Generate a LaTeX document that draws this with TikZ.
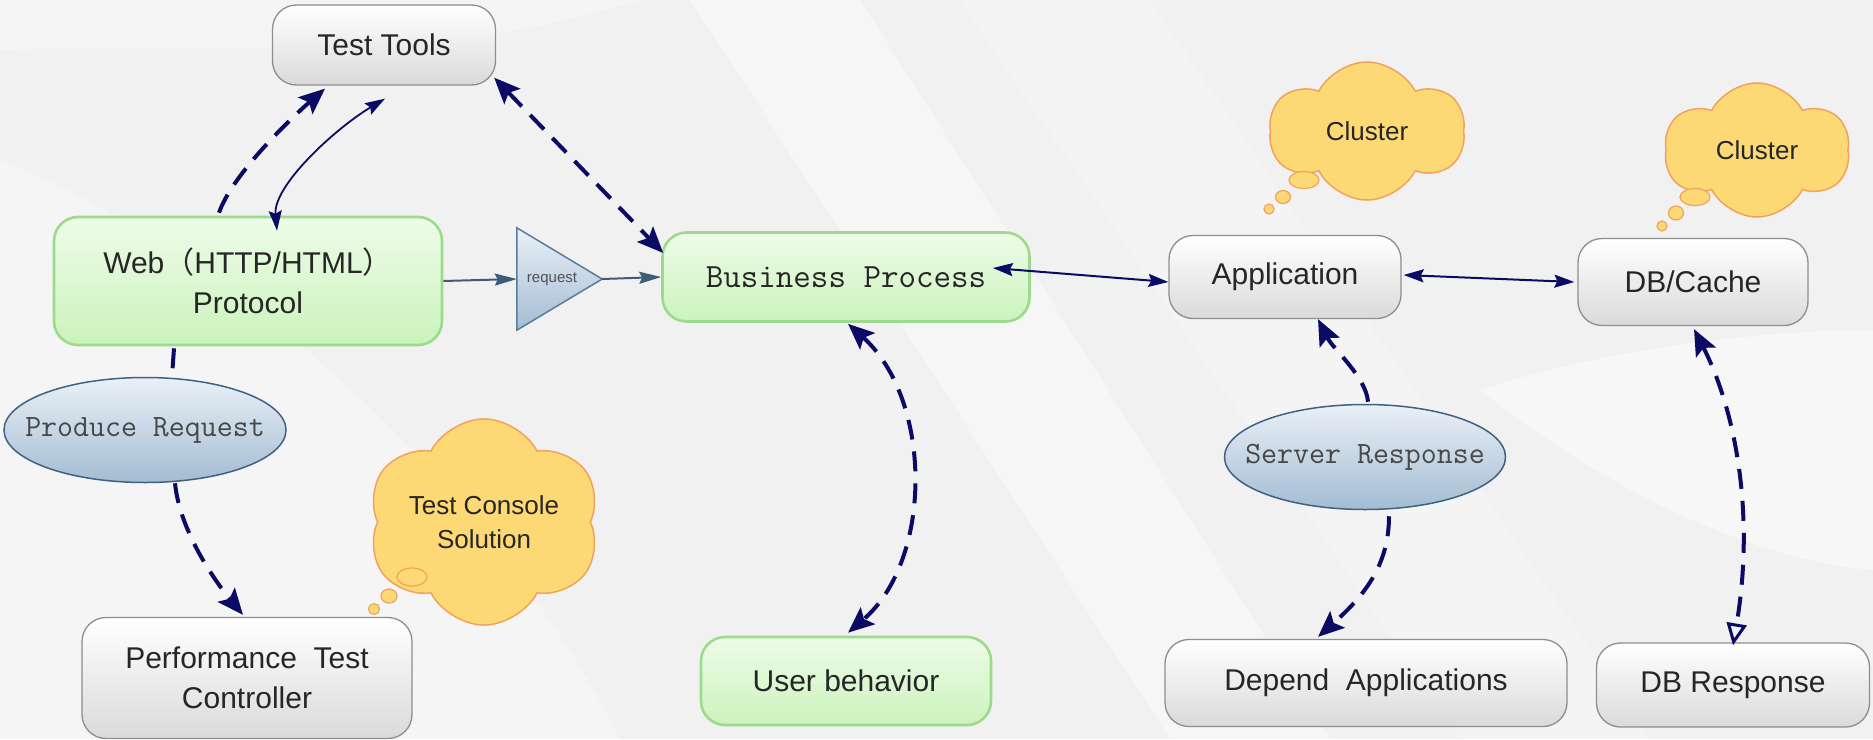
\documentclass[tikz,border=0pt]{standalone}
\usepackage{fontspec}
\setmainfont{Liberation Sans}
\newfontfamily\cjk{Noto Sans CJK SC}
\usetikzlibrary{shapes.geometric,shapes.symbols,arrows.meta}
\definecolor{bgc}{HTML}{F1F1F1}
\definecolor{boxline}{HTML}{8E8E8E}
\definecolor{boxbot}{HTML}{DADADA}
\definecolor{greenline}{HTML}{9CDB8C}
\definecolor{greentop}{HTML}{EEFCE9}
\definecolor{greenbot}{HTML}{CBF3BC}
\definecolor{ovalline}{HTML}{3F6282}
\definecolor{ovaltop}{HTML}{EAF0F7}
\definecolor{ovalbot}{HTML}{A3BCD3}
\definecolor{triline}{HTML}{5A7C99}
\definecolor{cloudline}{HTML}{EFA35C}
\definecolor{cloudfill}{HTML}{FDD976}
\definecolor{arrowc}{HTML}{0B0B66}
\definecolor{steelc}{HTML}{3D5C79}
\definecolor{txt}{HTML}{262626}
\newcommand\fsz[2]{\fontsize{#1pt}{#2pt}\selectfont}
\tikzset{
  box/.style={rounded corners=24pt, draw=boxline, line width=1.3pt, top color=white,
    bottom color=boxbot, text=txt, font=\fsz{30}{40}, align=center, inner sep=0pt},
  greenbox/.style={box, draw=greenline, line width=2.6pt, top color=greentop, bottom color=greenbot},
  oval/.style={ellipse, draw=ovalline, line width=1.5pt, top color=ovaltop, bottom color=ovalbot,
    text=txt!85, font=\ttfamily\fsz{31}{31}, inner xsep=-30pt, inner ysep=0pt},
  thought/.style={cloud, cloud puffs=6, cloud puff arc=125, aspect=1.3, draw=cloudline,
    fill=cloudfill, line width=1.5pt, text=black!85, font=\fsz{26}{34}, align=center, inner sep=0pt},
  bubble/.style={ellipse, draw=cloudline, fill=cloudfill, line width=1.2pt, inner sep=0pt},
  dasharrow/.style={draw=arrowc, line width=4pt, dash pattern=on 20pt off 12pt},
  thinarrow/.style={draw=arrowc, line width=2pt},
  bighead/.tip={Stealth[length=26pt, width=22pt, inset=5pt]},
  smallhead/.tip={Stealth[length=20pt, width=13pt, inset=3pt]},
  steelhead/.tip={Stealth[length=22pt, width=12pt, inset=3pt]},
  openhead/.tip={Triangle[open, length=22pt, width=20pt, line width=3pt]},
}
\begin{document}
\begin{tikzpicture}[x=1pt,y=-1pt]
\useasboundingbox (0,0) rectangle (1873,739);
% background
\fill[bgc] (0,0) rectangle (1873,739);
\fill[white,opacity=0.38] (690,0) -- (860,0) -- (1330,739) -- (1170,739) -- cycle;
\fill[white,opacity=0.25] (960,0) -- (1150,0) -- (1650,739) -- (1460,739) -- cycle;
\fill[white,opacity=0.35] (0,0) -- (640,0) .. controls (420,70) and (200,40) .. (0,50) -- cycle;
\fill[white,opacity=0.32] (0,160) .. controls (250,260) and (500,500) .. (620,739) -- (0,739) -- cycle;
\fill[white,opacity=0.45] (1480,390) .. controls (1620,500) and (1760,560) .. (1873,570) -- (1873,330) .. controls (1760,330) and (1600,350) .. (1480,390) -- cycle;

% nodes
\node[box, minimum width=223pt, minimum height=80pt] (tt) at (384,45) {Test Tools};
\node[greenbox, minimum width=388pt, minimum height=128pt] (web) at (248,281)
  {Web{\cjk （}HTTP/HTML{\cjk ）}\\Protocol};
\node[minimum width=85pt, minimum height=102pt, inner sep=0pt] (tri) at (559.5,279) {};
\path[top color=ovaltop, bottom color=ovalbot, draw=triline, line width=1.5pt]
  (tri.north west) -- (tri.east) -- (tri.south west) -- cycle;
\node[text=txt!80, font=\fsz{15}{15}] at (tri.center) {\hspace*{-15pt}request};
\node[greenbox, minimum width=367pt, minimum height=89pt, font=\ttfamily\fsz{34}{34}] (bp) at (846,277) {Business Process};
\node[box, minimum width=232pt, minimum height=83pt] (app) at (1285,277) {Application};
\node[box, minimum width=230pt, minimum height=87pt] (db) at (1693,282) {DB/Cache};
\node[oval, minimum width=282pt, minimum height=105pt] (pr) at (145,430) {Produce Request};
\node[oval, minimum width=281pt, minimum height=105pt] (sr) at (1365,457) {Server Response};
\node[box, minimum width=330pt, minimum height=121pt] (ptc) at (247,678) {Performance~~Test\\Controller};
\node[greenbox, minimum width=290pt, minimum height=88pt] (ub) at (846,681) {User behavior};
\node[box, minimum width=402pt, minimum height=87pt] (da) at (1366,683) {Depend~~Applications};
\node[box, minimum width=273pt, minimum height=84pt] (dbr) at (1733,685) {DB Response};

% thought clouds
\node[thought, minimum width=195pt, minimum height=138pt] (cl1) at (1367,131) {Cluster};
\node[bubble, minimum width=30pt, minimum height=17pt] (cl1a) at (1304,180) {};
\node[bubble, minimum width=15pt, minimum height=13pt] (cl1b) at (1283,197) {};
\node[bubble, minimum width=10pt, minimum height=10pt] (cl1c) at (1269,209) {};
\node[thought, minimum width=185pt, minimum height=134pt] (cl2) at (1757,150) {Cluster};
\node[bubble, minimum width=30pt, minimum height=17pt] (cl2a) at (1695,197) {};
\node[bubble, minimum width=15pt, minimum height=14pt] (cl2b) at (1676,213) {};
\node[bubble, minimum width=10pt, minimum height=10pt] (cl2c) at (1662,226) {};
\node[thought, minimum width=219pt, minimum height=155pt] (tcs) at (484,522) {Test Console\\Solution};
\node[bubble, minimum width=30pt, minimum height=18pt] (tcsa) at (412,577) {};
\node[bubble, minimum width=16pt, minimum height=14pt] (tcsb) at (389,596) {};
\node[bubble, minimum width=11pt, minimum height=11pt] (tcsc) at (374,609) {};

% connectors
\draw[dasharrow, -bighead] ([shift={(-29,-3)}]web.north) .. controls +(14,-40) and +(-30,26) .. ([shift={(-59,3)}]tt.south);
\draw[thinarrow, line width=1.8pt, smallhead-smallhead] ([shift={(1,13)}]tt.south) .. controls +(-50,30) and +(-4,-45) .. ([shift={(29,15)}]web.north);
\draw[dasharrow, bighead-bighead] ([shift={(-2,-8)}]tt.south east) -- ([shift={(2,-24)}]bp.west);
\draw[draw=steelc, line width=2pt, -steelhead] (web.east) -- (tri.west);
\draw[draw=steelc, line width=2pt, -steelhead] (tri.east) -- (bp.west);
\draw[thinarrow, smallhead-smallhead] ([shift={(-38,-9)}]bp.east) -- ([yshift=-5pt]app.west);
\draw[thinarrow, smallhead-smallhead] ([shift={(2,-2)}]app.east) -- ([xshift=-3pt]db.west);
\draw[dasharrow, -bighead] ([shift={(3,-2)}]sr.north) .. controls +(-2,-25) and +(15,30) .. ([xshift=33pt]app.south);
\draw[dasharrow, -bighead] ([shift={(24,6)}]sr.south) .. controls +(0,50) and +(45,-40) .. ([shift={(-48,-2)}]da.north);
\draw[dasharrow, bighead-openhead] ([shift={(1,3)}]db.south) .. controls +(42,82) and +(22,-130) .. ([yshift=-3pt]dbr.north);
\draw[dasharrow, bighead-bighead] ([shift={(2,1)}]bp.south) .. controls (933,400) and (933,560) .. ([shift={(2,-3)}]ub.north);
\draw[dasharrow] ([shift={(-74,2)}]web.south) -- ([xshift=27pt]pr.north);
\draw[dasharrow, -bighead] ([xshift=30pt]pr.south) .. controls +(5,50) and +(-25,-30) .. ([shift={(-4,-2)}]ptc.north);
\end{tikzpicture}
\end{document}
